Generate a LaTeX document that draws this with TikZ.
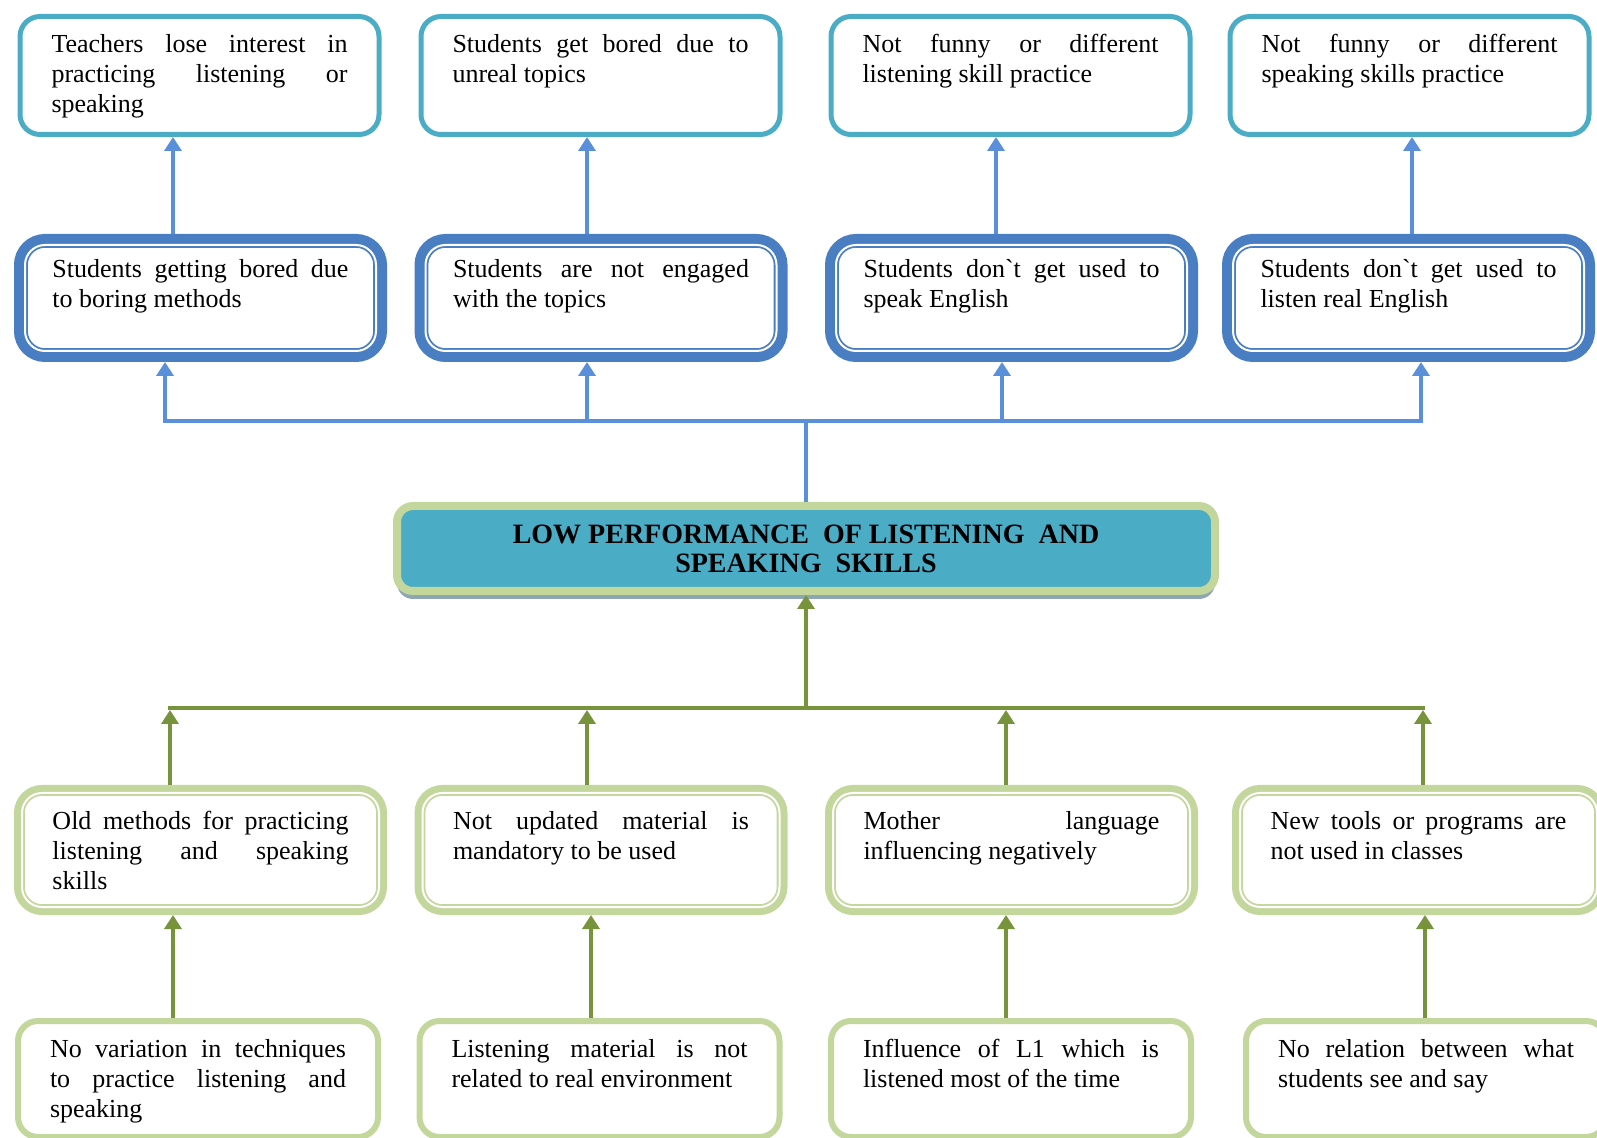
\documentclass[tikz,border=0pt]{standalone}
\usepackage{fontspec}
\setmainfont{Liberation Serif}
\usetikzlibrary{arrows.meta, shadows}

\definecolor{aqua}{HTML}{4BACC6}
\definecolor{boxblue}{HTML}{4A7EC2}
\definecolor{lineblue}{HTML}{5A8FDA}
\definecolor{palegreen}{HTML}{C3D69B}
\definecolor{olive}{HTML}{77933C}
\definecolor{shade}{HTML}{8EA6B4}
\hyphenpenalty=10000
\tolerance=9999
\newcommand{\apos}{{\addfontfeature{Ligatures=TeXOff}\symbol{96}}}

\tikzset{
  txt/.style={text width=148pt, align=justify, font=\fontsize{13}{15}\selectfont, text height=10pt},
  effect/.style={txt, draw=aqua, fill=white, line width=2.5pt, rounded corners=10pt,
    inner xsep=15.75pt, inner ysep=8.25pt, text depth=32.5pt, outer sep=1.25pt},
  problem/.style={txt, fill=white, preaction={draw=boxblue, line width=11pt},
    draw=boxblue, line width=0.9pt, double=white, double distance=1pt, rounded corners=10pt,
    inner xsep=13.75pt, inner ysep=6.5pt, text depth=30pt, outer sep=5.5pt},
  cause/.style={txt, fill=white, preaction={draw=palegreen, line width=8pt},
    draw=palegreen, line width=0.9pt, double=white, double distance=1pt, rounded corners=10pt,
    inner xsep=15.25pt, inner ysep=8.5pt, text depth=30pt, outer sep=4pt},
  root/.style={txt, draw=palegreen, fill=white, line width=3pt, rounded corners=10pt,
    inner xsep=16pt, inner ysep=8pt, text depth=32pt, outer sep=1.5pt},
  core/.style={draw=palegreen, fill=aqua, line width=4pt, rounded corners=8pt,
    minimum width=409pt, minimum height=42.5pt, align=center, outer sep=2pt,
    font=\bfseries\fontsize{14}{14.5}\selectfont,
    drop shadow={shadow xshift=0pt, shadow yshift=-4pt, fill=shade, opacity=1}},
  bluelink/.style={draw=lineblue, line width=2pt},
  bluearrow/.style={bluelink, -{Triangle[width=8.5pt,length=7pt]}},
  greenlink/.style={draw=olive, line width=2pt},
  greenarrow/.style={greenlink, -{Triangle[width=8.5pt,length=7pt]}},
}

\begin{document}
\begin{tikzpicture}[x=0.5pt, y=-0.5pt]
\useasboundingbox (0,0) rectangle (1597,1138);

% effects
\node[effect] (t1) at (199.5,75.5) {Teachers lose interest in practicing listening or speaking};
\node[effect] (t2) at (600.5,75.5) {Students get bored due to unreal topics};
\node[effect] (t3) at (1010.5,75.5) {Not funny or different listening skill practice};
\node[effect] (t4) at (1409.5,75.5) {Not funny or different speaking skills practice};

\node[problem] (s1) at (200.5,298) {Students getting bored due to boring methods};
\node[problem] (s2) at (601,298) {Students are not engaged with the topics};
\node[problem] (s3) at (1011.5,298) {Students don\apos t get used to speak English};
\node[problem] (s4) at (1408.5,298) {Students don\apos t get used to listen real English};

% central problem
\node[core] (mid) at (806,548.5) {LOW PERFORMANCE\ \ OF LISTENING\ \ AND\\SPEAKING\ \ SKILLS};

% causes
\node[cause] (c1) at (200.5,850) {Old methods for practicing\linebreak listening and speaking\linebreak skills};
\node[cause] (c2) at (601,850) {Not updated material is mandatory to be used};
\node[cause] (c3) at (1011.5,850) {Mother language\linebreak influencing negatively};
\node[cause] (c4) at (1418.5,850) {New tools or programs are not used in classes};

\node[root] (r1) at (198,1079) {No variation in techniques to practice listening and speaking};
\node[root] (r2) at (599.5,1079) {Listening material is not related to real environment};
\node[root] (r3) at (1011,1079) {Influence of L1 which is listened most of the time};
\node[root] (r4) at (1426,1079) {No relation between what students see and say};

% blue tree
\coordinate (bb) at (806,421);
\coordinate (d1) at (165,421);
\coordinate (d2) at (587,421);
\coordinate (d3) at (1002,421);
\coordinate (d4) at (1421,421);
\draw[bluelink] (mid.north) -- (bb);
\draw[bluearrow, {Triangle[width=8.5pt,length=7pt]}-{Triangle[width=8.5pt,length=7pt]}] (s1.south -| d1) -- (d1) -- (d4) -- (s4.south -| d4);
\draw[bluearrow] (d2) -- (s2.south -| d2);
\draw[bluearrow] (d3) -- (s3.south -| d3);

\coordinate (u1) at (173,190);
\coordinate (u2) at (587,190);
\coordinate (u3) at (996,190);
\coordinate (u4) at (1412,190);
\draw[bluearrow] (s1.north -| u1) -- (t1.south -| u1);
\draw[bluearrow] (s2.north -| u2) -- (t2.south -| u2);
\draw[bluearrow] (s3.north -| u3) -- (t3.south -| u3);
\draw[bluearrow] (s4.north -| u4) -- (t4.south -| u4);

% green tree
\coordinate (gb) at (806,708);
\coordinate (g1) at (170,708);
\coordinate (g2) at (587,708);
\coordinate (g3) at (1006,708);
\coordinate (g4) at (1423,708);
\draw[greenarrow] (gb) -- (mid.south);
\draw[greenlink, line cap=rect] (g1) -- (g4);
\draw[greenarrow, shorten >=1pt] (c1.north -| g1) -- (g1);
\draw[greenarrow, shorten >=1pt] (c2.north -| g2) -- (g2);
\draw[greenarrow, shorten >=1pt] (c3.north -| g3) -- (g3);
\draw[greenarrow, shorten >=1pt] (c4.north -| g4) -- (g4);

\coordinate (v1) at (173,960);
\coordinate (v2) at (591,960);
\coordinate (v3) at (1006,960);
\coordinate (v4) at (1425,960);
\draw[greenarrow] (r1.north -| v1) -- (c1.south -| v1);
\draw[greenarrow] (r2.north -| v2) -- (c2.south -| v2);
\draw[greenarrow] (r3.north -| v3) -- (c3.south -| v3);
\draw[greenarrow] (r4.north -| v4) -- (c4.south -| v4);
\end{tikzpicture}
\end{document}
